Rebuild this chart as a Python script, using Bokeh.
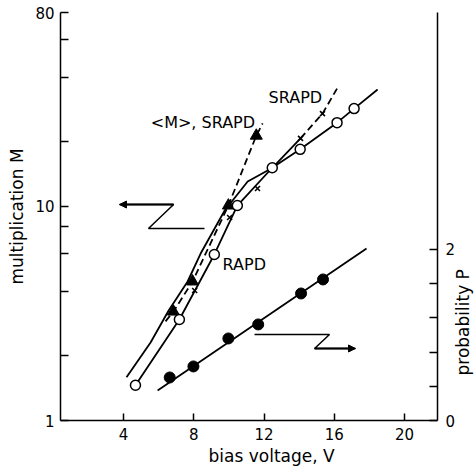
import math
from bokeh.plotting import figure
from bokeh.models import (Range1d, LinearAxis, LinearScale, FixedTicker, Label, Arrow,
                          NormalHead, Title)
from bokeh.embed import file_html
from bokeh.resources import INLINE

# ---- data ----
# RAPD multiplication M (open circles)
rapd_v = [4.68, 7.18, 9.17, 10.48, 12.47, 14.06, 16.16, 17.13]
rapd_m = [1.46, 2.96, 5.95, 10.06, 15.1, 18.4, 24.5, 28.5]
# RAPD fitted curve
rapd_curve_v = [4.68, 7.18, 9.17, 10.48, 12.47, 14.06, 16.16, 17.13, 18.47]
rapd_curve_m = [1.46, 2.96, 5.95, 10.06, 15.1, 18.4, 24.5, 28.5, 35.0]

# SRAPD multiplication M (x markers)
srapd_v = [8.05, 10.04, 11.63, 14.08, 15.33]
srapd_m = [4.04, 8.85, 12.08, 20.7, 27.0]
# SRAPD curve (solid part, then dashed continuation)
srapd_curve_v = [4.17, 5.54, 6.57, 7.65, 8.39, 9.76, 11.07, 12.49, 14.08]
srapd_curve_m = [1.59, 2.31, 3.26, 4.45, 6.01, 9.54, 13.03, 15.1, 20.7]
srapd_dash_v = [14.08, 15.33, 16.19]
srapd_dash_m = [20.7, 27.0, 35.7]

# <M>, SRAPD (filled triangles) and dashed curve
mean_v = [6.84, 7.93, 9.97, 11.56]
mean_m = [3.22, 4.45, 10.06, 21.3]
mean_curve_v = [6.39, 6.84, 7.93, 9.97, 11.56, 11.92]
mean_curve_m = [2.90, 3.22, 4.45, 10.06, 21.3, 24.3]

# probability P (filled circles, right axis)
prob_v = [6.63, 7.98, 9.97, 11.67, 14.11, 15.36]
prob_p = [0.503, 0.632, 0.959, 1.123, 1.485, 1.649]
prob_curve_v = [5.94, 17.84]
prob_curve_p = [0.351, 2.01]

# axis ticks
x_ticks = [4, 8, 12, 16, 20]
m_ticks = [1, 2, 4, 6, 8, 10, 20, 40, 60, 80]
m_labels = {1: "1", 10: "10", 80: "80"}
p_ticks = [0, 0.4, 0.8, 1.2, 1.6, 2.0]
p_labels = {0: "0", 2.0: "2"}
p_title = "probability P"
p_title_at = 0.526   # P level where the right-hand title starts (reads upward)

# pointer arrows (Z shaped), left one -> M axis, right one -> P axis
left_arrow_v = [8.61, 5.42, 6.85, 3.77]
left_arrow_m = [7.86, 7.86, 10.17, 10.17]
right_arrow_v = [11.46, 15.73, 14.88, 17.21]
right_arrow_p = [1.006, 1.006, 0.842, 0.842]

FONT = "DejaVu Sans"
X0, X1 = 0.41, 21.88
P_TOP = 4.77

p = figure(frame_width=377, frame_height=408, output_backend="svg", toolbar_location=None,
           x_range=Range1d(X0, X1), y_range=Range1d(1, 80), y_axis_type="log",
           min_border_left=60, min_border_right=38, min_border_top=12, min_border_bottom=50)
p.extra_y_ranges = {"P": Range1d(0, P_TOP)}
p.extra_y_scales = {"P": LinearScale()}
p.outline_line_color = None
p.xgrid.visible = False
p.ygrid.visible = False
p.background_fill_color = "white"

def style_axis(ax, tick_in):
    ax.axis_line_color = "black"
    ax.axis_line_width = 1.5
    ax.major_tick_line_color = "black"
    ax.major_tick_line_width = 1.5
    ax.major_tick_in = tick_in
    ax.major_tick_out = 0
    ax.minor_tick_line_color = None
    ax.major_label_text_font = FONT
    ax.major_label_text_font_size = "15px"
    ax.major_label_text_color = "black"
    ax.axis_label_text_font = FONT
    ax.axis_label_text_font_size = "17px"
    ax.axis_label_text_font_style = "normal"
    ax.axis_label_text_color = "black"

xa = p.xaxis[0]
xa.ticker = FixedTicker(ticks=x_ticks, minor_ticks=[])
style_axis(xa, 7)
xa.major_label_standoff = 7

ya = p.yaxis[0]
ya.ticker = FixedTicker(ticks=m_ticks, minor_ticks=[])
ya.major_label_overrides = {t: m_labels.get(t, "") for t in m_ticks}
style_axis(ya, 8)
ya.major_label_standoff = 6
ya.axis_label = "multiplication M"
ya.axis_label_standoff = 5

ra = LinearAxis(y_range_name="P", ticker=FixedTicker(ticks=p_ticks, minor_ticks=[]))
ra.major_label_overrides = {t: p_labels.get(t, "") for t in p_ticks}
style_axis(ra, 8)
ra.major_label_standoff = 8
p.add_layout(ra, "right")

# title of the P axis: a bare axis (no line, no tick) carrying one rotated label
rt = LinearAxis(y_range_name="P", ticker=FixedTicker(ticks=[p_title_at], minor_ticks=[]))
rt.major_label_overrides = {p_title_at: p_title}
rt.axis_line_color = None
rt.major_tick_line_color = None
rt.minor_tick_line_color = None
rt.major_tick_in = 0
rt.major_tick_out = 0
rt.major_label_orientation = math.pi / 2
rt.major_label_standoff = 5
rt.major_label_text_font = FONT
rt.major_label_text_font_size = "17px"
rt.major_label_text_color = "black"
p.add_layout(rt, "right")

p.add_layout(Title(text="bias voltage, V", align="left", offset=148, text_font=FONT,
                   text_font_size="17px", text_font_style="normal", text_color="black",
                   standoff=2), "below")

LW = 1.8
# curves
p.line(rapd_curve_v, rapd_curve_m, line_color="black", line_width=LW)
p.line(srapd_curve_v, srapd_curve_m, line_color="black", line_width=LW)
p.line(srapd_dash_v, srapd_dash_m, line_color="black", line_width=LW, line_dash="7 4")
p.line(mean_curve_v, mean_curve_m, line_color="black", line_width=LW, line_dash="7 4")
p.line(prob_curve_v, prob_curve_p, line_color="black", line_width=LW, y_range_name="P")

# markers
p.scatter(srapd_v, srapd_m, marker="x", size=7, line_color="black", line_width=1.6)
p.scatter(mean_v, mean_m, marker="triangle", size=12, fill_color="black", line_color="black")
p.scatter(rapd_v, rapd_m, marker="circle", size=10, fill_color="white", line_color="black", line_width=1.5)
p.scatter(prob_v, prob_p, marker="circle", size=11, fill_color="black", line_color="black",
          y_range_name="P")

# pointer arrows
p.line(left_arrow_v, left_arrow_m, line_color="black", line_width=1.5)
p.add_layout(Arrow(end=NormalHead(size=7, fill_color="black", line_color="black"),
                   x_start=left_arrow_v[2], y_start=left_arrow_m[2],
                   x_end=left_arrow_v[3], y_end=left_arrow_m[3],
                   line_color="black", line_width=2))
p.line(right_arrow_v, right_arrow_p, line_color="black", line_width=1.5, y_range_name="P")
p.add_layout(Arrow(end=NormalHead(size=7, fill_color="black", line_color="black"),
                   x_start=right_arrow_v[2], y_start=right_arrow_p[2],
                   x_end=right_arrow_v[3], y_end=right_arrow_p[3],
                   line_color="black", line_width=2, y_range_name="P"))

# curve labels
for txt, xv, yv in [("<M>, SRAPD", 5.55, 24.5), ("SRAPD", 12.26, 32.1), ("RAPD", 9.64, 5.34)]:
    p.add_layout(Label(x=xv, y=yv, text=txt, text_font=FONT, text_font_size="16px",
                       text_align="left", text_baseline="middle", text_color="black"))

open("out.html", "w").write(file_html(p, INLINE))
